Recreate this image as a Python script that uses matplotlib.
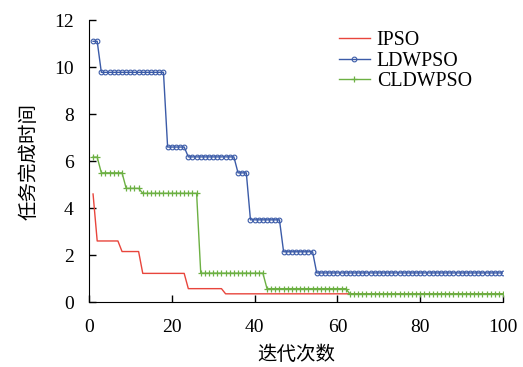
import matplotlib
matplotlib.use("Agg")
import matplotlib.pyplot as plt
import numpy as np

iters = list(range(1, 101))

# step levels: (last iteration, value)
ipso_steps = [(1, 4.6), (7, 2.6), (12, 2.15), (23, 1.22), (32, 0.57), (100, 0.35)]
ldwpso_steps = [(2, 11.1), (18, 9.78), (23, 6.6), (35, 6.18), (38, 5.5), (46, 3.5), (54, 2.14), (100, 1.24)]
cldwpso_steps = [(2, 6.17), (8, 5.5), (12, 4.84), (26, 4.63), (42, 1.23), (62, 0.57), (100, 0.35)]

def expand(steps):
    vals = []
    for it in iters:
        for last, v in steps:
            if it <= last:
                vals.append(v)
                break
    return vals

ipso = expand(ipso_steps)
ldwpso = expand(ldwpso_steps)
cldwpso = expand(cldwpso_steps)

fig = plt.figure(figsize=(5.23, 3.67), dpi=100)
ax = fig.add_axes([0.170, 0.177, 0.792, 0.768])

serif = "Liberation Serif"
cjk = ["Noto Sans CJK SC", "DejaVu Sans"]

ax.plot(iters, ipso, color="#e8453c", lw=1.0, label="IPSO")
ax.plot(iters, ldwpso, color="#3b5ba8", lw=1.0, marker="o", ms=3.4, mfc="none", mew=0.8, label="LDWPSO")
ax.plot(iters, cldwpso, color="#6cb043", lw=1.0, marker="+", ms=4, mew=0.9, label="CLDWPSO")

ax.set_xlim(0, 100)
ax.set_ylim(0, 12)
ax.set_xticks([0, 20, 40, 60, 80, 100])
ax.set_yticks([0, 2, 4, 6, 8, 10, 12])
ax.spines["top"].set_visible(False)
ax.spines["right"].set_visible(False)
ax.tick_params(direction="in", length=5, width=1, labelsize=14)
ax.tick_params(axis="x", pad=12)
ax.tick_params(axis="y", pad=11)
for lab in ax.get_xticklabels() + ax.get_yticklabels():
    lab.set_fontfamily(serif)

ax.set_xlabel("迭代次数", fontfamily=cjk, fontsize=14, labelpad=6)
ax.set_ylabel("任务完成时间", fontfamily=cjk, fontsize=14, labelpad=10)

leg = fig.legend(loc="upper left", bbox_to_anchor=(339 / 523, 1 - 31 / 367), frameon=False,
                 prop={"family": serif, "size": 14.3}, handlelength=1.55,
                 handletextpad=0.35, labelspacing=0.08, borderpad=0, borderaxespad=0)

fig.savefig("out.png", dpi=100)
